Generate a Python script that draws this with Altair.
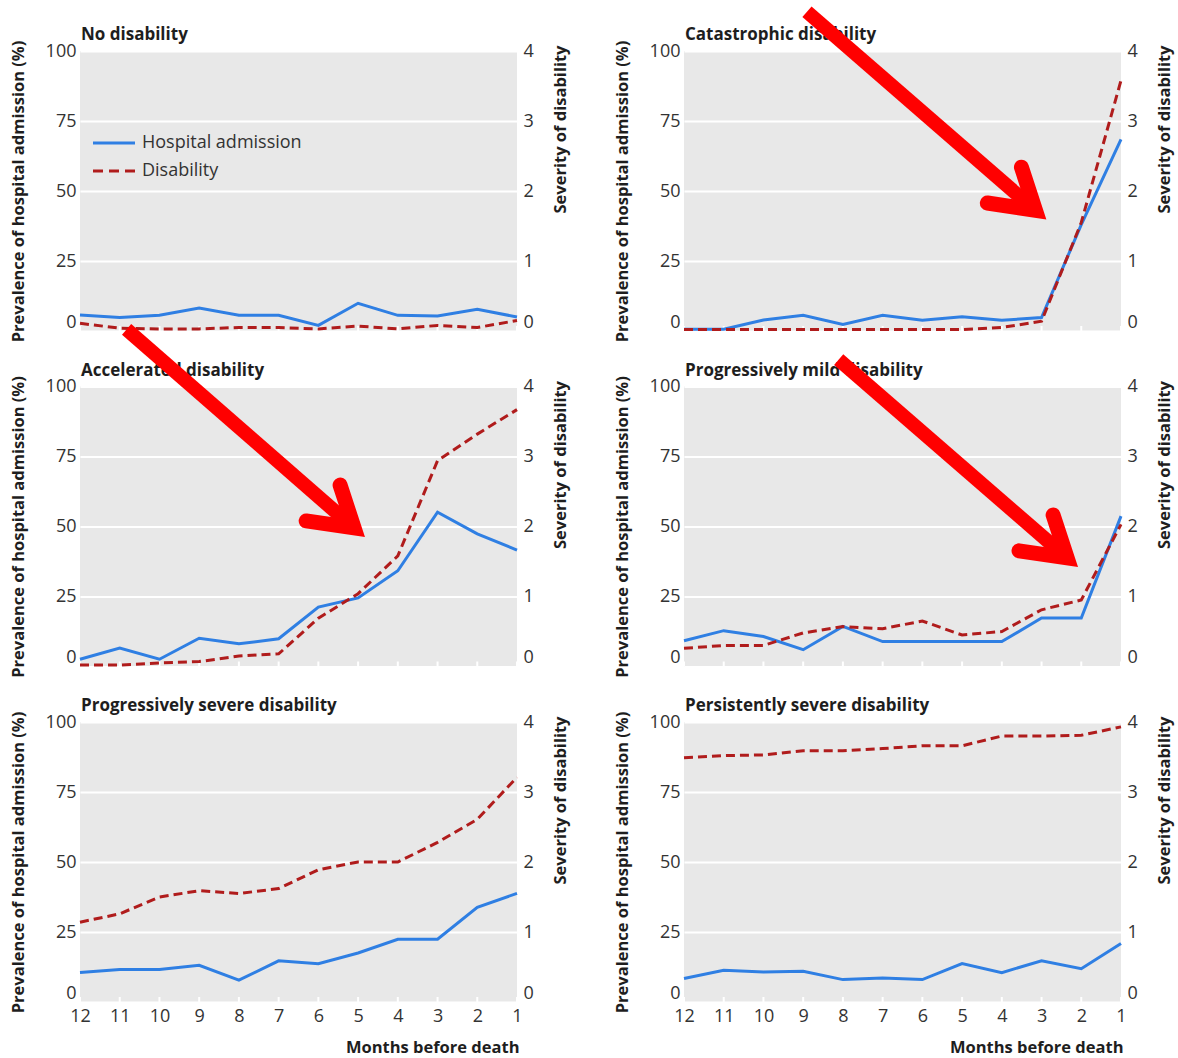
import altair as alt
import pandas as pd

# ---------------------------------------------------------------------------
# Data: months before death, hospital admission (%) and disability severity
# ---------------------------------------------------------------------------
months = [12, 11, 10, 9, 8, 7, 6, 5, 4, 3, 2, 1]

panel_titles = [
    "No disability",
    "Catastrophic disability",
    "Accelerated disability",
    "Progressively mild disability",
    "Progressively severe disability",
    "Persistently severe disability",
]

# Prevalence of hospital admission (%), months 12 -> 1
admission_none = [5.7, 4.8, 5.6, 8.2, 5.6, 5.6, 2.0, 9.9, 5.6, 5.4, 7.8, 5.0]
admission_catastrophic = [0.6, 0.6, 3.9, 5.6, 2.3, 5.6, 3.8, 5.1, 3.8, 4.8, 38.0, 68.4]
admission_accelerated = [2.6, 6.6, 2.6, 10.1, 8.1, 9.9, 21.2, 24.5, 34.2, 55.1, 47.4, 41.6]
admission_mild = [9.2, 12.8, 10.7, 6.0, 14.3, 8.9, 8.9, 8.9, 8.9, 17.3, 17.3, 53.7]
admission_prog_severe = [10.5, 11.6, 11.6, 13.1, 7.8, 14.7, 13.7, 17.5, 22.4, 22.4, 33.8, 38.8]
admission_pers_severe = [8.4, 11.3, 10.7, 11.0, 8.0, 8.6, 8.0, 13.7, 10.5, 14.7, 11.9, 20.9]

# Severity of disability (0-4 scale), months 12 -> 1
severity_none = [0.11, 0.04, 0.03, 0.03, 0.05, 0.05, 0.03, 0.07, 0.03, 0.08, 0.05, 0.15]
severity_catastrophic = [0.02, 0.02, 0.02, 0.02, 0.02, 0.02, 0.02, 0.02, 0.05, 0.14, 1.55, 3.58]
severity_accelerated = [0.02, 0.02, 0.05, 0.07, 0.15, 0.18, 0.69, 1.04, 1.58, 2.94, 3.32, 3.67]
severity_mild = [0.26, 0.30, 0.30, 0.48, 0.57, 0.54, 0.65, 0.45, 0.50, 0.81, 0.95, 2.03]
severity_prog_severe = [1.14, 1.26, 1.50, 1.59, 1.55, 1.62, 1.89, 2.00, 2.00, 2.28, 2.61, 3.21]
severity_pers_severe = [3.49, 3.52, 3.53, 3.59, 3.59, 3.62, 3.66, 3.66, 3.80, 3.80, 3.81, 3.93]

admissions = [admission_none, admission_catastrophic, admission_accelerated,
              admission_mild, admission_prog_severe, admission_pers_severe]
severities = [severity_none, severity_catastrophic, severity_accelerated,
              severity_mild, severity_prog_severe, severity_pers_severe]

series_names = ["Hospital admission", "Disability"]

# Highlight arrows, in each panel's (month, admission %) coordinates
# shaft: start -> end ; head: arm end -> tip -> arm end
arrow_shaft_month = {1: [8.905, 3.153], 2: [10.827, 5.101], 3: [8.107, 2.356]}
arrow_shaft_pct = {1: [114.0, 43.1], 2: [120.4, 49.5], 3: [109.6, 38.8]}
arrow_head_month = {1: [3.506, 3.153, 4.364], 2: [5.453, 5.101, 6.307], 3: [2.709, 2.356, 3.567]}
arrow_head_pct = {1: [58.5, 43.1, 45.7], 2: [64.8, 49.5, 52.0], 3: [54.1, 38.8, 41.3]}

# ---------------------------------------------------------------------------
# Styling
# ---------------------------------------------------------------------------
BLUE = "#2f7fe3"
RED = "#b01c1c"
ARROW = "#ff0000"
PANEL_BG = "#e8e8e8"
TEXT = "#1e1e1e"
LABEL = "#333333"
FONT = "Open Sans"
W, H = 437, 280

zero_low = {"condition": {"test": "datum.value === 0", "value": "bottom"}, "value": "middle"}


def make_panel(i, bottom_row):
    xscale = alt.Scale(domain=[1, 12], reverse=True, nice=False, zero=False)
    if bottom_row:
        xaxis = alt.Axis(values=months, format="d", title="Months before death",
                         labelFlush=False, domain=False, ticks=False, grid=False,
                         labelPadding=5, titlePadding=14, titleX=W + 2,
                         titleAlign="right", labelColor=LABEL)
    else:
        xaxis = None
    xenc = alt.X("month:Q", scale=xscale, axis=xaxis)

    df_a = pd.DataFrame({"month": months, "value": admissions[i],
                         "series": series_names[0]})
    df_s = pd.DataFrame({"month": months, "value": severities[i],
                         "series": series_names[1]})

    # small white month ticks along the bottom of the panel
    ticks = alt.Chart(pd.DataFrame({"month": months})).mark_rule(
        color="white", strokeWidth=2
    ).encode(
        x=xenc,
        y=alt.value(H),
        y2=alt.value(H - 5),
    )

    admission_line = alt.Chart(df_a).mark_line(
        color=BLUE, strokeWidth=3
    ).encode(
        x=xenc,
        y=alt.Y("value:Q",
                scale=alt.Scale(domain=[0, 100], nice=False, zero=False),
                axis=alt.Axis(orient="left", values=[0, 25, 50, 75, 100],
                              title="Prevalence of hospital admission (%)",
                              grid=True, gridColor="white", gridWidth=2,
                              domain=False, ticks=False, labelPadding=4,
                              labelBaseline=zero_low, labelFlush=False,
                              titlePadding=19)),
    )

    severity_line = alt.Chart(df_s).mark_line(
        color=RED, strokeWidth=3, strokeDash=[9, 5]
    ).encode(
        x=xenc,
        y=alt.Y("value:Q",
                scale=alt.Scale(domain=[0, 4], nice=False, zero=False),
                axis=alt.Axis(orient="right", values=[0, 1, 2, 3, 4],
                              title="Severity of disability",
                              grid=False, domain=False, ticks=False,
                              labelPadding=6, labelBaseline=zero_low,
                              labelFlush=False, titleAngle=270,
                              titleAnchor="end", titleBaseline="top",
                              titleY=-6, titlePadding=19)),
    )

    title = alt.Chart(pd.DataFrame({"t": [panel_titles[i]]})).mark_text(
        align="left", baseline="middle", font=FONT, fontWeight="bold",
        fontSize=17, color=TEXT
    ).encode(x=alt.value(1), y=alt.value(-16), text="t:N")

    layers = [ticks, admission_line, severity_line, title]

    if i == 0:
        # key for the two series
        for k, (col, dash) in enumerate([(BLUE, None), (RED, [10, 6])]):
            ypix = 92 + 28 * k
            rule_kwargs = dict(color=col, strokeWidth=3)
            if dash:
                rule_kwargs["strokeDash"] = dash
            swatch = alt.Chart(pd.DataFrame({"s": [series_names[k]]})).mark_rule(
                **rule_kwargs
            ).encode(x=alt.value(13), x2=alt.value(55), y=alt.value(ypix))
            label = alt.Chart(pd.DataFrame({"s": [series_names[k]]})).mark_text(
                align="left", baseline="middle", font=FONT, fontSize=18, color=LABEL
            ).encode(x=alt.value(62), y=alt.value(ypix), text="s:N")
            layers += [swatch, label]

    if i in arrow_shaft_month:
        pscale = alt.Scale(domain=[0, 100], nice=False, zero=False)
        df_shaft = pd.DataFrame({"month": arrow_shaft_month[i],
                                 "pct": arrow_shaft_pct[i], "idx": [0, 1]})
        df_head = pd.DataFrame({"month": arrow_head_month[i],
                                "pct": arrow_head_pct[i], "idx": [0, 1, 2]})
        shaft = alt.Chart(df_shaft).mark_line(
            color=ARROW, strokeWidth=14, strokeCap="butt", strokeJoin="round"
        ).encode(
            x=alt.X("month:Q", scale=xscale, axis=None),
            y=alt.Y("pct:Q", scale=pscale, axis=None),
            order="idx:O",
        )
        head = alt.Chart(df_head).mark_line(
            color=ARROW, strokeWidth=15, strokeCap="round", strokeJoin="miter"
        ).encode(
            x=alt.X("month:Q", scale=xscale, axis=None),
            y=alt.Y("pct:Q", scale=pscale, axis=None),
            order="idx:O",
        )
        layers += [shaft, head]

    return alt.layer(*layers).resolve_scale(y="independent").properties(
        width=W, height=H
    )


panels = [make_panel(i, i >= 4) for i in range(6)]

chart = alt.concat(
    *panels, columns=2, bounds="flush",
    spacing=alt.RowColnumber(row=55.5, column=167),
).configure_view(
    fill=PANEL_BG, stroke=None
).configure_axis(
    labelFont=FONT, labelFontSize=18, labelColor=LABEL,
    titleFont=FONT, titleFontSize=16.5, titleFontWeight="bold", titleColor=TEXT,
).properties(
    background="white",
    padding={"left": 10, "top": 4, "right": 5, "bottom": 5},
)

chart.save("out.html", embed_options={"renderer": "svg", "actions": False})
